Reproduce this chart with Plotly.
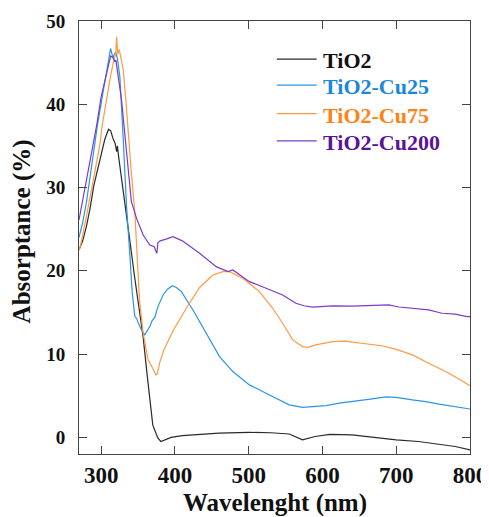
import plotly.graph_objects as go

# ---- data ----
wl_tio2 = [270, 275, 280, 285, 290, 295, 300, 305, 310, 313, 316, 319, 321, 322, 324, 326, 331, 335, 340, 345,
           350, 357, 362, 366, 370, 373, 377, 381, 386, 395, 410, 430, 460, 500, 530, 555, 573, 590, 610, 640,
           670, 700, 730, 760, 780, 800]
ab_tio2 = [22.5, 23.6, 25.3, 27.5, 30.2, 32.0, 33.8, 35.8, 37.0, 36.8, 35.9, 35.3, 34.3, 35.0, 33.5, 32.1, 28.9, 26.1, 22.9, 19.5,
           16.5, 12.0, 7.8, 4.5, 1.5, 0.8, -0.1, -0.5, -0.35, 0.0, 0.2, 0.35, 0.5, 0.6, 0.55, 0.4, -0.3, 0.1, 0.35, 0.3,
           0.0, -0.3, -0.5, -0.9, -1.1, -1.5]

wl_cu25 = [270, 275, 280, 285, 290, 295, 300, 305, 310, 312.8, 316, 319.6, 322, 325.4, 330, 334.5, 339, 342, 345.7, 348,
           351, 354.7, 359, 362, 366, 369, 372.7, 377, 384, 390, 396.6, 402, 408.8, 424.5, 442.5, 460.5, 478.5, 501, 523.6, 541.6,
           555, 573, 586.7, 605, 622.7, 645, 665, 686, 700, 722, 740, 758, 780, 796, 800]
ab_cu25 = [24.0, 25.8, 28.2, 31.5, 34.5, 37.5, 40.1, 42.7, 45.5, 46.7, 45.6, 46.3, 45.5, 43.3, 35.7, 27.7, 21.8, 17.5, 14.5, 14.3,
           13.6, 12.9, 12.3, 12.8, 13.3, 14.0, 14.4, 15.7, 17.1, 17.8, 18.2, 18.0, 17.5, 15.3, 12.5, 9.7, 7.9, 6.3, 5.3, 4.5,
           3.9, 3.6, 3.7, 3.8, 4.1, 4.4, 4.6, 4.85, 4.8, 4.5, 4.3, 4.0, 3.7, 3.4, 3.4]

wl_cu75 = [270, 272, 280, 288, 293, 298, 301.5, 307, 312, 316, 318, 320, 321, 322.5, 324.5, 327, 330, 333.5, 336.6, 341,
           345.7, 348, 352, 357, 363.6, 370, 374, 376, 379.5, 385, 397.5, 415.5, 433.5, 451.5, 465, 474, 492, 514.6, 532.6, 546,
           559.7, 573, 580, 591, 613.6, 630, 654, 680, 699, 722, 744, 767, 785, 800]
ab_cu75 = [22.5, 23.0, 26.5, 30.5, 32.5, 35.0, 37.5, 40.5, 43.0, 44.8, 45.5, 46.3, 48.1, 46.0, 46.6, 45.5, 44.1, 40.5, 36.5, 31.7,
           27.0, 22.5, 16.5, 12.5, 9.3, 8.3, 7.5, 7.6, 9.0, 10.5, 12.8, 15.5, 18.0, 19.5, 19.9, 19.9, 19.1, 17.5, 15.5, 13.7,
           11.7, 10.9, 10.8, 11.1, 11.5, 11.55, 11.25, 11.0, 10.6, 9.9, 8.9, 7.9, 7.0, 6.2]

wl_cu200 = [270, 275, 281, 288, 294, 300, 305, 308, 310, 313, 316, 318.6, 320, 322, 325, 327.7, 332, 336.6, 341, 348,
            357, 366, 372, 374, 375.5, 377, 380, 388, 397.5, 410, 433.5, 456, 472, 478.5, 501, 523.6, 546, 564, 575, 586.6,
            613.6, 640, 665, 690, 703.8, 720, 744, 762, 780, 796, 800]
ab_cu200 = [26.1, 28.5, 31.0, 34.5, 37.5, 40.9, 42.9, 44.0, 45.0, 45.8, 45.6, 45.1, 45.3, 44.0, 42.0, 40.5, 36.5, 32.5, 28.3, 26.3,
            24.3, 23.1, 22.9, 22.4, 22.1, 23.4, 23.6, 23.8, 24.1, 23.6, 22.1, 20.5, 19.9, 20.1, 18.7, 17.9, 17.1, 16.1, 15.8, 15.65,
            15.8, 15.75, 15.85, 15.9, 15.65, 15.5, 15.3, 14.9, 14.8, 14.5, 14.5]

series_names = ["TiO2", "TiO2-Cu25", "TiO2-Cu75", "TiO2-Cu200"]
line_colors = ["#2a2a2a", "#2b95e3", "#ff9a45", "#7b3cc8"]
text_colors = ["#111111", "#1a87d9", "#ff8215", "#5a1496"]

x_ticks = [300, 400, 500, 600, 700, 800]
y_ticks = [0, 10, 20, 30, 40, 50]

FONT = "Liberation Serif"

fig = go.Figure()
for name, xs, ys, lc in zip(series_names,
                            [wl_tio2, wl_cu25, wl_cu75, wl_cu200],
                            [ab_tio2, ab_cu25, ab_cu75, ab_cu200],
                            line_colors):
    fig.add_trace(go.Scatter(x=xs, y=ys, mode="lines", name=name,
                             line=dict(color=lc, width=1.2), showlegend=False))

# legend drawn as paper-positioned annotations + short line samples
leg_rows_y = [0.912, 0.852, 0.786, 0.723]
for name, lc, tc, yy in zip(series_names, line_colors, text_colors, leg_rows_y):
    fig.add_shape(type="line", xref="paper", yref="paper",
                  x0=0.506, x1=0.608, y0=yy, y1=yy, line=dict(color=lc, width=1.2))
    fig.add_annotation(xref="paper", yref="paper", x=0.618, y=yy - 0.004,
                       xanchor="left", yanchor="middle", showarrow=False,
                       text=f"<b>{name}</b>",
                       font=dict(family=FONT, size=22, color=tc))

# axis titles
fig.add_annotation(xref="paper", yref="paper", x=0.5, y=-0.113,
                   xanchor="center", yanchor="middle", showarrow=False,
                   text="<b>Wavelenght (nm)</b>", font=dict(family=FONT, size=25, color="#111"))
fig.add_annotation(xref="paper", yref="paper", x=-0.147, y=0.513,
                   xanchor="center", yanchor="middle", showarrow=False, textangle=-90,
                   text="<b>Absorptance (%)</b>", font=dict(family=FONT, size=25, color="#111"))

axis_common = dict(
    showline=True, linecolor="#444", linewidth=1, mirror="ticks",
    ticks="inside", ticklen=8, tickcolor="#444", tickwidth=1,
    showgrid=False, zeroline=False, automargin=False,
)

# page body has an 8px default margin, so the figure is sized/offset to compensate
fig.update_layout(
    width=481, height=509,
    margin=dict(l=71, r=19, t=13, b=63),
    paper_bgcolor="white", plot_bgcolor="white",
    font=dict(family=FONT, color="#111"),
    xaxis=dict(range=[270, 800], tickvals=x_ticks,
               tickfont=dict(family=FONT, size=23, weight="bold", color="#111"),
               ticklabelstandoff=0,
               **axis_common),
    yaxis=dict(range=[-2, 50], tickvals=y_ticks,
               tickfont=dict(family=FONT, size=19, weight="bold", color="#111"),
               ticklabelstandoff=9,
               **axis_common),
    showlegend=False,
)

fig.write_html("out.html")
